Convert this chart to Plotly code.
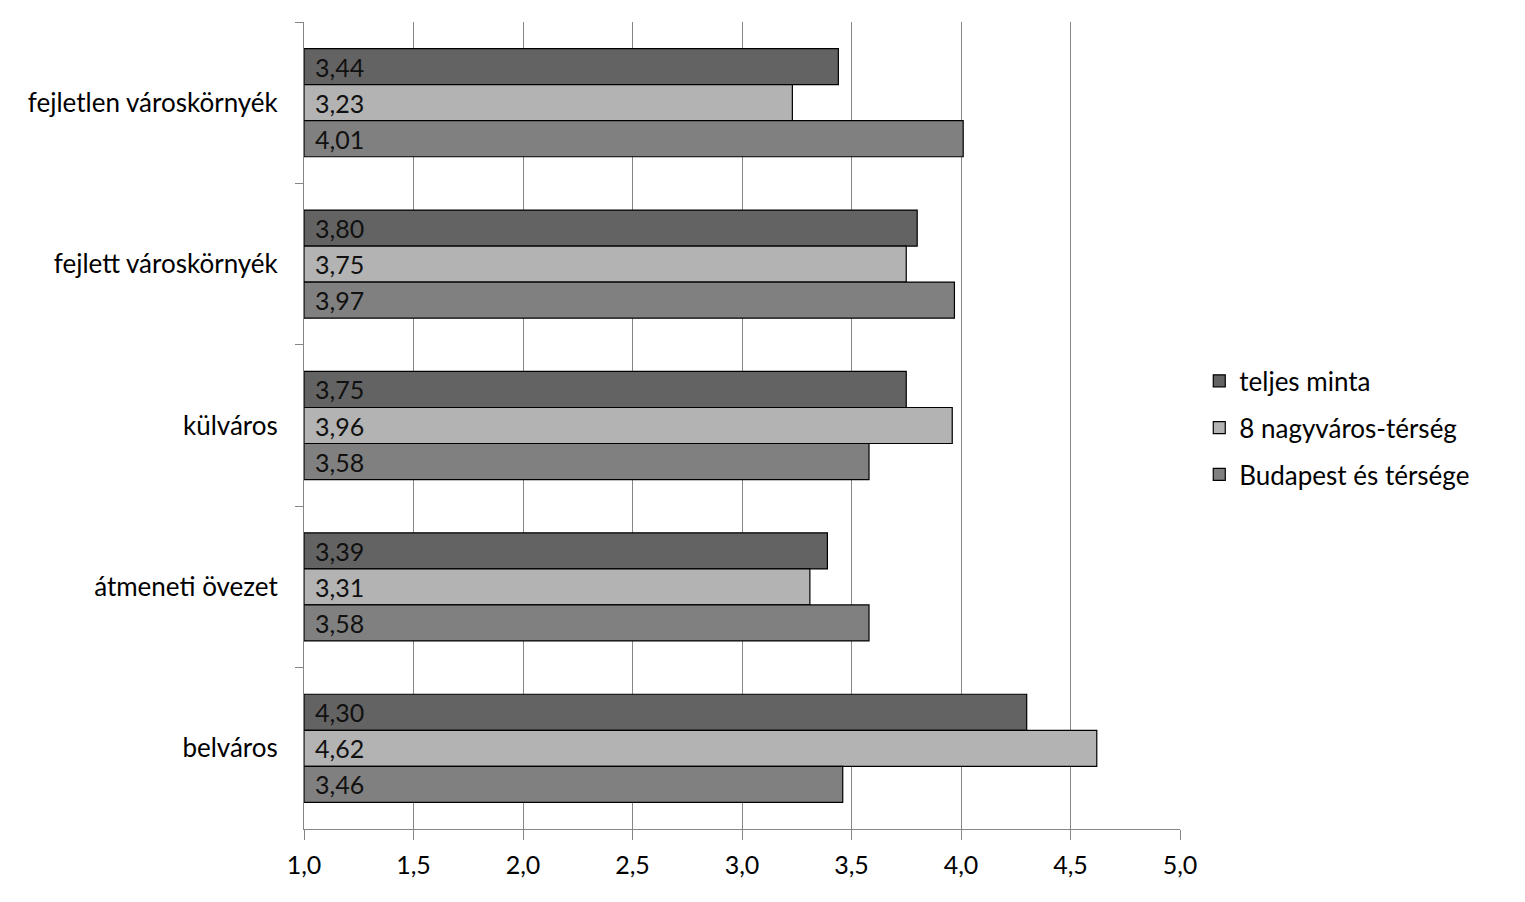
import plotly.graph_objects as go

categories = ["fejletlen városkörnyék", "fejlett városkörnyék", "külváros", "átmeneti övezet", "belváros"]
series_names = ["teljes minta", "8 nagyváros-térség", "Budapest és térsége"]
teljes = [3.44, 3.80, 3.75, 3.39, 4.30]
nagyvaros = [3.23, 3.75, 3.96, 3.31, 4.62]
budapest = [4.01, 3.97, 3.58, 3.58, 3.46]
x_ticks = [1.0, 1.5, 2.0, 2.5, 3.0, 3.5, 4.0, 4.5, 5.0]

colors = ["#636363", "#b3b3b3", "#808080"]
FONT = "Lato"

fig = go.Figure()
for i, (name, vals) in enumerate(zip(series_names, [teljes, nagyvaros, budapest])):
    fig.add_trace(go.Bar(
        y=categories, x=[v - 1.0 for v in vals], base=1.0, orientation="h",
        name=name, legendgroup=name,
        marker=dict(color=colors[i], line=dict(color="black", width=1.2)),
        text=[f"{v:.2f}".replace(".", ",") for v in vals],
        textposition="inside", insidetextanchor="start",
        texttemplate=" \u200a%{text}",
        textfont=dict(family=FONT, size=25, color="#111111"),
        cliponaxis=False,
    ))

fig.update_layout(
    width=1525, height=902,
    margin=dict(l=304, r=345, t=22, b=73),
    paper_bgcolor="white", plot_bgcolor="white",
    barmode="group", bargap=0.33, bargroupgap=0,
    separators=", ",
    font=dict(family=FONT, size=26, color="black"),
    legend=dict(x=1.022, y=0.497, xanchor="left", yanchor="middle",
                font=dict(family=FONT, size=26, color="black"),
                tracegroupgap=10, itemwidth=30),
    uniformtext=dict(mode=False),
)
fig.update_xaxes(range=[1, 5], tickvals=x_ticks, tickformat=".1f",
                 showgrid=True, gridcolor="#868686", gridwidth=1,
                 showline=True, linecolor="#868686", linewidth=1,
                 ticks="outside", ticklen=10, tickcolor="#868686",
                 tickfont=dict(family=FONT, size=25), ticklabelstandoff=4, zeroline=False)
fig.update_yaxes(autorange="reversed", showline=True, linecolor="#868686", linewidth=1,
                 ticks="outside", ticklen=8, tickcolor="#868686", tickson="boundaries",
                 tickfont=dict(family=FONT, size=26), ticklabelstandoff=20, showgrid=False)

fig.write_html("out.html")
